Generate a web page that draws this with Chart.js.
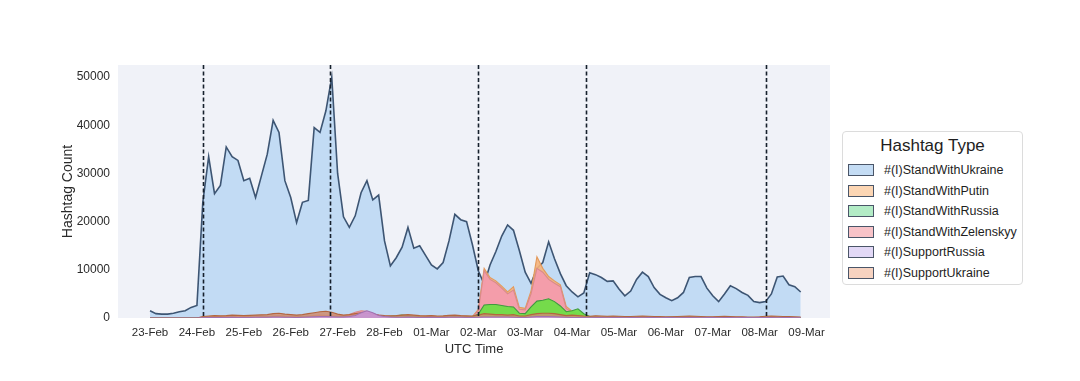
<!DOCTYPE html>
<html>
<head>
<meta charset="utf-8">
<script src="https://cdn.jsdelivr.net/npm/chart.js@4"></script>
<style>
  body { margin: 0; background: #fff; font-family: "Liberation Sans", Arial, sans-serif; }
  #wrap { position: relative; width: 1080px; height: 381px; }
  #legend {
    position: absolute; left: 842px; top: 131px; width: 181px; height: 154px;
    box-sizing: border-box; border: 1px solid #dcdcdc; border-radius: 4px; background: #fff;
    color: #1e1e1e;
  }
  #legend .title { height: 28px; line-height: 28px; text-align: center; font-size: 17px; }
  #legend .row { height: 20.5px; display: flex; align-items: center; font-size: 12.5px; white-space: nowrap; }
  #legend .patch { width: 24px; height: 10px; margin: 0 10px 0 5px; border: 1px solid #4a5568; }
</style>
</head>
<body>
<div id="wrap">
  <canvas id="myChart" width="1080" height="381"></canvas>
  <div id="legend"></div>
</div>
<script>
// 3-hourly samples starting 23-Feb 00:00 UTC
const ukraine = [
  1500, 900, 800, 800, 1000, 1300, 1500, 2200, 2600, 24000,
  33500, 25800, 27500, 35500, 33500, 32700, 28500, 29000, 25000, 29500,
  34000, 41000, 38500, 28500, 25000, 19800, 24000, 24400, 39500, 38500,
  43000, 50000, 30000, 21000, 18800, 21200, 26000, 28500, 24500, 25500,
  16000, 10800, 12500, 14700, 18800, 14500, 15000, 13000, 11000, 10200,
  11500, 16000, 21500, 20400, 20000, 15200, 9800, 7000, 11000, 13800,
  17000, 19300, 18200, 14000, 9500, 7200, 10300, 11500, 15800, 12300,
  9200, 6700, 5400, 4400, 5200, 9400, 9000, 8400, 7600, 7700,
  6000, 4600, 5600, 8000, 9500, 8600, 6300, 4900, 4200, 3600,
  4200, 5300, 8400, 8600, 8600, 6200, 4600, 3400, 5000, 6700,
  6100, 5300, 4700, 3400, 3200, 3400, 5000, 8500, 8700, 6900,
  6500, 5400
];
const putin = [
  0, 0, 0, 0, 0, 0, 0, 0, 0, 100,
  150, 150, 100, 150, 200, 150, 150, 200, 150, 150,
  200, 250, 200, 200, 150, 150, 200, 200, 250, 300,
  300, 300, 250, 200, 300, 400, 500, 400, 300, 250,
  200, 200, 150, 200, 250, 200, 150, 150, 200, 150,
  150, 200, 250, 200, 200, 300, 1800, 10300, 8400, 7700,
  6600, 5400, 6500, 2200, 2000, 5600, 12700, 10300, 8600, 7700,
  6900, 2400, 1400, 900, 600, 300, 250, 200, 200, 150,
  150, 150, 100, 150, 200, 150, 150, 100, 100, 150,
  150, 200, 150, 150, 100, 100, 100, 150, 150, 100,
  100, 100, 100, 100, 100, 150, 150, 100, 100, 100,
  100, 100
];
const russia = [
  0, 0, 0, 0, 0, 0, 0, 0, 0, 100,
  100, 150, 100, 100, 150, 100, 100, 150, 100, 150,
  150, 200, 150, 150, 100, 150, 150, 200, 200, 250,
  250, 200, 200, 150, 200, 300, 400, 350, 250, 200,
  250, 350, 450, 600, 500, 350, 250, 200, 200, 150,
  200, 250, 300, 250, 250, 300, 800, 2700, 2800, 2800,
  2600, 2400, 2300, 1000, 900, 2300, 3500, 3700, 4000, 3400,
  2500, 1300, 1500, 1900, 900, 300, 250, 200, 150, 150,
  150, 100, 100, 150, 200, 150, 100, 100, 100, 150,
  150, 200, 150, 150, 100, 100, 100, 100, 150, 100,
  100, 100, 100, 100, 100, 150, 150, 100, 100, 100,
  100, 100
];
const zelenskyy = [
  0, 0, 0, 0, 0, 0, 0, 0, 0, 200,
  300, 300, 250, 300, 350, 300, 250, 300, 300, 350,
  300, 400, 500, 400, 350, 300, 300, 400, 500, 600,
  500, 600, 500, 400, 700, 1200, 1500, 1400, 900, 600,
  400, 300, 300, 400, 500, 400, 300, 300, 400, 300,
  300, 400, 500, 400, 300, 300, 1500, 9800, 8000, 7300,
  6200, 5000, 5800, 1800, 1700, 5000, 10300, 9500, 8000, 7200,
  6500, 2000, 1200, 800, 500, 300, 300, 250, 200, 200,
  200, 150, 150, 200, 250, 200, 150, 150, 150, 200,
  200, 250, 200, 200, 150, 150, 150, 200, 200, 150,
  150, 150, 100, 100, 150, 200, 200, 150, 100, 100,
  100, 100
];
const supportRussia = [
  0, 0, 0, 0, 0, 0, 0, 0, 0, 50,
  100, 100, 100, 100, 150, 100, 100, 100, 150, 150,
  150, 200, 200, 150, 150, 100, 150, 200, 250, 300,
  300, 250, 200, 200, 300, 500, 1100, 1500, 1100, 500,
  300, 200, 150, 150, 200, 150, 100, 100, 150, 100,
  100, 150, 150, 150, 100, 100, 150, 200, 200, 200,
  200, 200, 150, 100, 100, 200, 300, 300, 300, 250,
  200, 150, 100, 100, 100, 50, 100, 100, 50, 100,
  100, 50, 100, 100, 50, 100, 100, 50, 100, 100,
  50, 100, 100, 100, 50, 100, 100, 50, 100, 100,
  50, 100, 100, 50, 100, 100, 100, 50, 100, 100,
  50, 50
];
const supportUkraine = [
  0, 0, 0, 0, 0, 0, 0, 0, 0, 300,
  400, 500, 450, 500, 600, 550, 500, 550, 600, 650,
  700, 900, 1000, 800, 700, 600, 700, 900, 1100, 1300,
  1400, 1200, 800, 600, 700, 900, 1100, 1000, 800, 600,
  500, 450, 500, 600, 700, 600, 500, 450, 500, 400,
  450, 550, 600, 500, 450, 400, 600, 900, 800, 700,
  700, 600, 700, 400, 400, 700, 900, 1000, 1000, 900,
  700, 500, 600, 500, 400, 350, 450, 400, 350, 400,
  350, 300, 300, 350, 400, 350, 300, 300, 250, 250,
  300, 350, 400, 350, 300, 250, 250, 300, 350, 300,
  250, 250, 200, 200, 250, 350, 400, 350, 300, 300,
  250, 200
];

const hours = ukraine.map((_, i) => i * 3);

const dayLabels = ['23-Feb', '24-Feb', '25-Feb', '26-Feb', '27-Feb', '28-Feb', '01-Mar', '02-Mar',
                   '03-Mar', '04-Mar', '05-Mar', '06-Mar', '07-Mar', '08-Mar', '09-Mar'];
const dayHours = [0, 24, 48, 72, 96, 120, 144, 168, 192, 216, 240, 264, 288, 312, 336];
const yTicks = [0, 10000, 20000, 30000, 40000, 50000];
const eventHours = [27, 92, 168, 223, 315];

const seriesNames = ['#(I)StandWithUkraine', '#(I)StandWithPutin', '#(I)StandWithRussia',
                     '#(I)StandWithZelenskyy', '#(I)SupportRussia', '#(I)SupportUkraine'];
const seriesValues = [ukraine, putin, russia, zelenskyy, supportRussia, supportUkraine];
const fillColors = ['rgba(164,203,242,0.6)', 'rgba(245,178,122,0.9)', 'rgba(110,222,70,0.95)',
                    'rgba(243,155,172,0.95)', 'rgba(200,150,215,0.9)', 'rgba(205,140,110,0.85)'];
const lineColors = ['#3d5573', '#e39a5c', '#3f9a3f', '#d98a8a', '#a072b0', '#b4663f'];
const legendColors = ['#c4dcf4', '#fcd6b4', '#b3ecc6', '#f8c3c8', '#e2d8f6', '#f6d2c0'];
const drawOrder = [6, 5, 3, 4, 1, 2];

const plotBackground = {
    id: 'plotBackground',
    beforeDraw(chart) {
        const { ctx, chartArea: a } = chart;
        ctx.save();
        ctx.fillStyle = '#f0f2f8';
        ctx.fillRect(a.left, a.top, a.right - a.left, a.bottom - a.top);
        ctx.restore();
    }
};

const eventLines = {
    id: 'eventLines',
    afterDatasetsDraw(chart) {
        const { ctx, chartArea: a, scales: { x } } = chart;
        ctx.save();
        ctx.strokeStyle = '#16202c';
        ctx.lineWidth = 1.6;
        ctx.setLineDash([4, 2.5]);
        eventHours.forEach(h => {
            const px = Math.round(x.getPixelForValue(h)) + 0.5;
            ctx.beginPath();
            ctx.moveTo(px, a.top);
            ctx.lineTo(px, a.bottom);
            ctx.stroke();
        });
        ctx.restore();
    }
};

const ctx = document.getElementById('myChart');

new Chart(ctx, {
    type: 'line',
    data: {
        datasets: seriesNames.map((name, i) => ({
            label: name,
            data: hours.map((h, j) => ({ x: h, y: seriesValues[i][j] })),
            backgroundColor: fillColors[i],
            borderColor: lineColors[i],
            borderWidth: i === 0 ? 1.6 : 1.1,
            fill: 'origin',
            pointRadius: 0,
            tension: 0,
            order: drawOrder[i]
        }))
    },
    options: {
        responsive: false,
        animation: false,
        layout: { padding: { left: 60, top: 65, right: 250, bottom: 24 } },
        plugins: {
            legend: { display: false },
            tooltip: { enabled: false }
        },
        scales: {
            x: {
                type: 'linear',
                min: -16.4,
                max: 348,
                grid: { display: false, drawTicks: false },
                border: { display: false },
                afterBuildTicks: (scale) => { scale.ticks = dayHours.map(v => ({ value: v })); },
                afterFit: (scale) => { scale.height = 39; },
                ticks: {
                    autoSkip: false,
                    maxRotation: 0,
                    padding: 8,
                    color: '#2a2a2a',
                    font: { size: 11.5, family: 'Liberation Sans' },
                    callback: (value, index) => dayLabels[index]
                },
                title: {
                    display: true,
                    text: 'UTC Time',
                    color: '#2a2a2a',
                    padding: 0,
                    font: { size: 13, family: 'Liberation Sans' }
                }
            },
            y: {
                min: 0,
                max: 52500,
                grid: { display: false, drawTicks: false },
                border: { display: false },
                afterBuildTicks: (scale) => { scale.ticks = yTicks.map(v => ({ value: v })); },
                afterFit: (scale) => { scale.width = 58; },
                ticks: {
                    padding: 8,
                    color: '#2a2a2a',
                    font: { size: 12, family: 'Liberation Sans' },
                    callback: (value) => String(value)
                },
                title: {
                    display: true,
                    text: 'Hashtag Count',
                    color: '#2a2a2a',
                    padding: 0,
                    font: { size: 14, family: 'Liberation Sans' }
                }
            }
        }
    },
    plugins: [plotBackground, eventLines]
});

// legend box on the right
const legendBox = document.getElementById('legend');
legendBox.innerHTML = '<div class="title">Hashtag Type</div>' +
    seriesNames.map((name, i) =>
        `<div class="row"><span class="patch" style="background:${legendColors[i]}"></span>${name}</div>`
    ).join('');
</script>
</body>
</html>
